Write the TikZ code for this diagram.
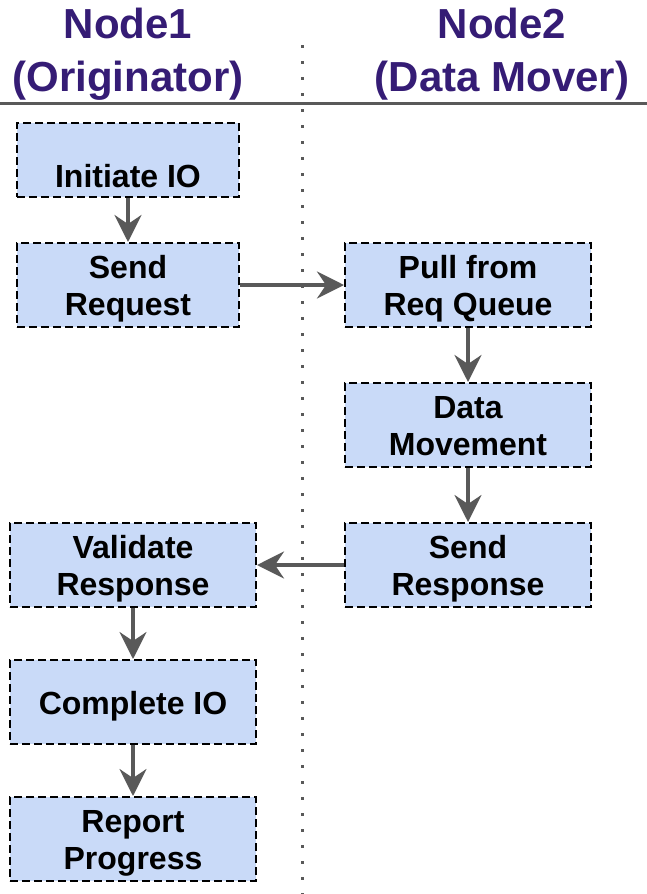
\documentclass[tikz,border=0pt]{standalone}
\usepackage{fontspec}
\setmainfont{Liberation Sans}
\usetikzlibrary{positioning,arrows.meta}
\definecolor{titlepurple}{RGB}{53,28,117}
\definecolor{boxblue}{RGB}{201,218,248}
\definecolor{arrowgray}{RGB}{89,89,89}

\begin{document}
\begin{tikzpicture}[x=1pt,y=-1pt,
  stepbox/.style={draw=black,dash pattern=on 8pt off 4pt,line width=2pt,fill=boxblue,
    minimum width=246pt,minimum height=84pt,inner sep=2pt,align=center,
    text height=68pt,text depth=7pt,
    font=\fontsize{32}{37}\selectfont\bfseries},
  head/.style={text=titlepurple,align=center,font=\fontsize{42}{53}\selectfont\bfseries},
  flow/.style={draw=arrowgray,line width=3.5pt,-{Stealth[length=27pt,width=27pt,inset=9pt]}}]
\useasboundingbox (0,0) rectangle (647,894);
% lanes
\draw[arrowgray,line width=3pt] (0,103) -- (647,103);
\draw[arrowgray,line width=3pt,dash pattern=on 3pt off 13pt] (302,45) -- (302,894);
\node[head] (lane1) at (128,54) {Node1\\(Originator)};
\node[head] (lane2) at (502,54) {Node2\\(Data Mover)};
% steps
\node[stepbox,minimum width=222pt,minimum height=74pt,text height=55pt,text depth=0pt]
      (initio)     at (128,160)              {Initiate IO};
\node[stepbox,minimum width=222pt]
      (sendreq)    [below=44pt of initio]     {Send\\Request};
\node[stepbox] (pullq)      at (468,285)              {Pull from\\Req Queue};
\node[stepbox] (datamv)     [below=54pt of pullq]     {Data\\Movement};
\node[stepbox] (sendresp)   [below=54pt of datamv]    {Send\\Response};
\node[stepbox] (validresp)  [left=87pt of sendresp]   {Validate\\Response};
\node[stepbox,text height=31pt]
      (completeio) [below=51pt of validresp] {Complete IO};
\node[stepbox] (reportprog) [below=51pt of completeio]{Report\\Progress};
% flow
\draw[flow] (initio)     -- (sendreq);
\draw[flow] (sendreq)    -- (pullq);
\draw[flow] (pullq)      -- (datamv);
\draw[flow] (datamv)     -- (sendresp);
\draw[flow] (sendresp)   -- (validresp);
\draw[flow] (validresp)  -- (completeio);
\draw[flow] (completeio) -- (reportprog);
\end{tikzpicture}
\end{document}
